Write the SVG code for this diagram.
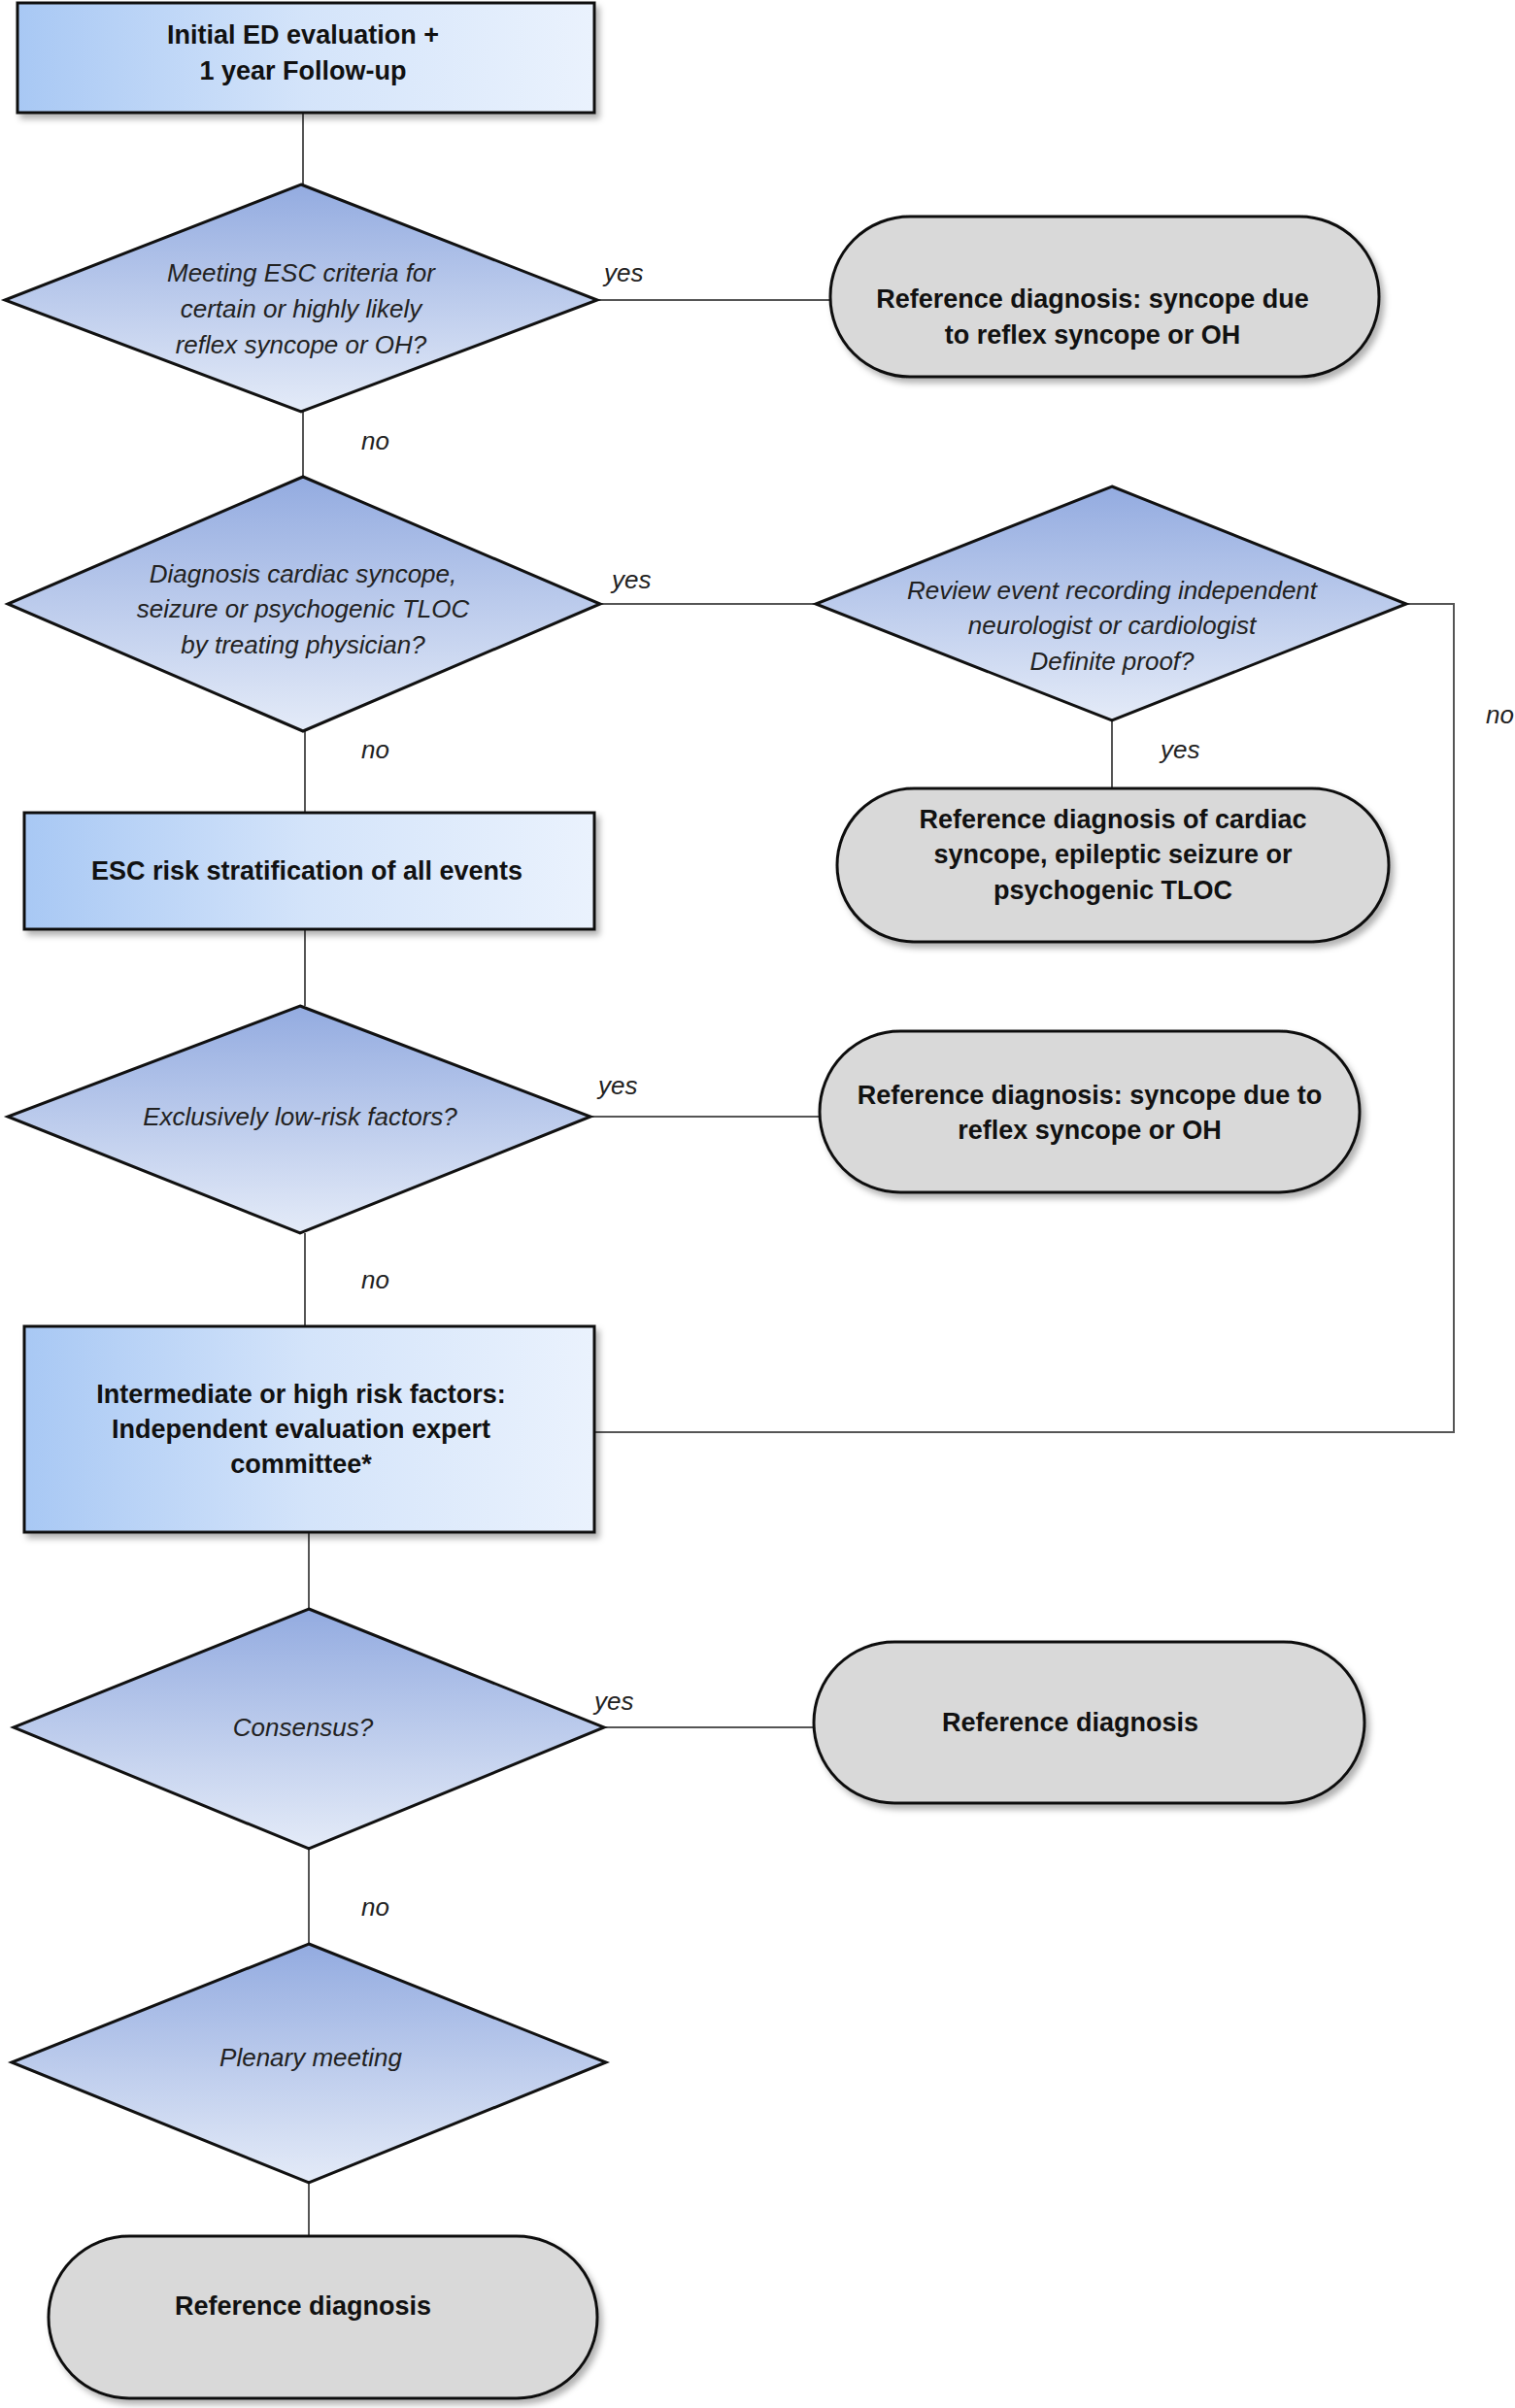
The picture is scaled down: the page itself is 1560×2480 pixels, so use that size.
<svg xmlns="http://www.w3.org/2000/svg" width="1560" height="2480" viewBox="0 0 1560 2480">
<defs>
<linearGradient id="gBox" x1="0" y1="0" x2="1" y2="0"><stop offset="0" stop-color="#a8c8f4"/><stop offset="0.5" stop-color="#d4e4fa"/><stop offset="1" stop-color="#eaf2fd"/></linearGradient>
<linearGradient id="gDia" x1="0" y1="0" x2="0" y2="1"><stop offset="0" stop-color="#93abe0"/><stop offset="1" stop-color="#e4ebf8"/></linearGradient>
<filter id="sh" x="-10%" y="-10%" width="125%" height="130%"><feDropShadow dx="4" dy="5" stdDeviation="3" flood-color="#000" flood-opacity="0.3"/></filter>
</defs>
<style>
.box{fill:url(#gBox);stroke:#111;stroke-width:3;filter:url(#sh)}
.dia{fill:url(#gDia);stroke:#111;stroke-width:3}
.term{fill:#d9d9d9;stroke:#111;stroke-width:3;filter:url(#sh)}
.b{font-family:"Liberation Sans",Arial,sans-serif;font-weight:bold;font-size:27px;fill:#111;text-anchor:middle}
.i{font-family:"Liberation Sans",Arial,sans-serif;font-style:italic;font-size:26px;fill:#222;text-anchor:middle}
.lbl{font-family:"Liberation Sans",Arial,sans-serif;font-style:italic;font-size:26px;fill:#222}
.c{fill:none;stroke:#555;stroke-width:2}
</style>
<g id="connectors">
<path class="c" d="M312 116V190"/>
<path class="c" d="M615 309H855"/>
<path class="c" d="M312 424V491"/>
<path class="c" d="M618 622H840"/>
<path class="c" d="M1448 622H1497V1475H612"/>
<path class="c" d="M1145 742V812"/>
<path class="c" d="M314 753V837"/>
<path class="c" d="M314 957V1036"/>
<path class="c" d="M608 1150H844"/>
<path class="c" d="M314 1270V1366"/>
<path class="c" d="M318 1578V1657"/>
<path class="c" d="M622 1779H838"/>
<path class="c" d="M318 1904V2002"/>
<path class="c" d="M318 2248V2303"/>
<text class="lbl" x="622" y="290">yes</text>
<text class="lbl" x="372" y="463">no</text>
<text class="lbl" x="630" y="606">yes</text>
<text class="lbl" x="372" y="781">no</text>
<text class="lbl" x="1195" y="781">yes</text>
<text class="lbl" x="1530" y="745">no</text>
<text class="lbl" x="616" y="1127">yes</text>
<text class="lbl" x="372" y="1327">no</text>
<text class="lbl" x="612" y="1761">yes</text>
<text class="lbl" x="372" y="1973">no</text>
</g>
<g id="n1"><rect class="box" x="18" y="3" width="594" height="113"/><text class="b" x="312" y="45">Initial ED evaluation +</text><text class="b" x="312" y="82">1 year Follow-up</text></g>
<g id="d1"><polygon class="dia" points="310,190 615,309 310,424 5,309"/><text class="i" x="310" y="290">Meeting ESC criteria for</text><text class="i" x="310" y="327">certain or highly likely</text><text class="i" x="310" y="364">reflex syncope or OH?</text></g>
<g id="t1"><rect class="term" x="855" y="223" width="565" height="165" rx="82"/><text class="b" x="1125" y="317">Reference diagnosis: syncope due</text><text class="b" x="1125" y="354">to reflex syncope or OH</text></g>
<g id="d2"><polygon class="dia" points="312,491 618,622 312,753 8,622"/><text class="i" x="312" y="600">Diagnosis cardiac syncope,</text><text class="i" x="312" y="636">seizure or psychogenic TLOC</text><text class="i" x="312" y="673">by treating physician?</text></g>
<g id="d3"><polygon class="dia" points="1145,501 1448,622 1145,742 840,622"/><text class="i" x="1145" y="617">Review event recording independent</text><text class="i" x="1145" y="653">neurologist or cardiologist</text><text class="i" x="1145" y="690">Definite proof?</text></g>
<g id="t2"><rect class="term" x="862" y="812" width="568" height="158" rx="79"/><text class="b" x="1146" y="853">Reference diagnosis of cardiac</text><text class="b" x="1146" y="889">syncope, epileptic seizure or</text><text class="b" x="1146" y="926">psychogenic TLOC</text></g>
<g id="n2"><rect class="box" x="25" y="837" width="587" height="120"/><text class="b" x="316" y="906">ESC risk stratification of all events</text></g>
<g id="d4"><polygon class="dia" points="309,1036 608,1150 309,1270 8,1150"/><text class="i" x="309" y="1159">Exclusively low-risk factors?</text></g>
<g id="t3"><rect class="term" x="844" y="1062" width="556" height="166" rx="83"/><text class="b" x="1122" y="1137">Reference diagnosis: syncope due to</text><text class="b" x="1122" y="1173">reflex syncope or OH</text></g>
<g id="n3"><rect class="box" x="25" y="1366" width="587" height="212"/><text class="b" x="310" y="1445">Intermediate or high risk factors:</text><text class="b" x="310" y="1481">Independent evaluation expert</text><text class="b" x="310" y="1517">committee*</text></g>
<g id="d5"><polygon class="dia" points="318,1657 622,1779 318,1904 14,1779"/><text class="i" x="312" y="1788">Consensus?</text></g>
<g id="t4"><rect class="term" x="838" y="1691" width="567" height="166" rx="83"/><text class="b" x="1102" y="1783">Reference diagnosis</text></g>
<g id="d6"><polygon class="dia" points="318,2002 624,2124 318,2248 12,2124"/><text class="i" x="320" y="2128">Plenary meeting</text></g>
<g id="t5"><rect class="term" x="50" y="2303" width="565" height="167" rx="83"/><text class="b" x="312" y="2384">Reference diagnosis</text></g>
</svg>
